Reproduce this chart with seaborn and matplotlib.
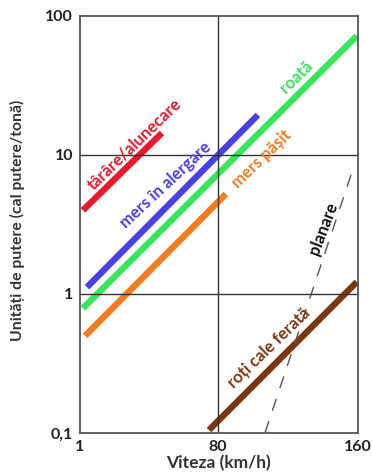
import pandas as pd
import numpy as np
import seaborn as sns
import matplotlib.pyplot as plt

# movement modes: start/end speed (km/h) and power units (hp/ton)
modes = ["târâre/alunecare", "mers în alergare", "roată", "mers pășit", "roți cale ferată"]
x_start = [2.7, 5.0, 2.7, 3.9, 74.8]
x_end = [47.9, 102.8, 159.4, 84.5, 159.4]
y_start = [4.0, 1.12, 0.79, 0.50, 0.105]
y_end = [14.4, 19.4, 71.8, 5.24, 1.22]
colors = ["#E8192C", "#4A3FE2", "#38E55B", "#F47B20", "#7B3810"]

# gliding (dashed)
planare_x = [106.8, 158.0]
planare_y = [0.1, 8.5]

# label centres and angles
label_x = [32.0, 50.3, 124.6, 105.2, 109.2]
label_y = [12.0, 6.1, 36.5, 9.4, 0.41]
label_rot = [44, 43, 44, 44, 44]

xticks = [1, 80, 160]
yticks = [0.1, 1, 10, 100]
ytick_labels = ["0,1", "1", "10", "100"]

rows = []
for m, xs, xe, ys, ye in zip(modes, x_start, x_end, y_start, y_end):
    rows.append({"mode": m, "x": xs, "y": ys})
    rows.append({"mode": m, "x": xe, "y": ye})
df = pd.DataFrame(rows)

sns.set_style("white")
plt.rcParams['font.family'] = ['Lato', 'DejaVu Sans']
plt.rcParams['font.weight'] = 'bold'

fig = plt.figure(figsize=(3.72, 4.75), dpi=100)
ax = fig.add_axes([0.215, 0.0884, 0.747, 0.878])

sns.lineplot(data=df, x="x", y="y", hue="mode", palette=dict(zip(modes, colors)),
             lw=4.6, ax=ax, legend=False, solid_capstyle="butt", sort=False)
ax.plot(planare_x, planare_y, color="#555555", lw=1.0, dashes=(9, 8))

ax.set_yscale("log")
ax.set_xlim(1, 160)
ax.set_ylim(0.1, 100)
ax.set_xticks(xticks)
ax.set_xticklabels([str(t) for t in xticks], fontsize=11.5, fontweight="bold")
ax.set_yticks(yticks)
ax.set_yticklabels(ytick_labels, fontsize=11.5, fontweight="bold")
ax.minorticks_off()
ax.tick_params(length=0, pad=5, colors="#222222")

ax.axvline(80, color="#333333", lw=1)
for yv in [1, 10]:
    ax.axhline(yv, color="#333333", lw=1)
for s in ax.spines.values():
    s.set_color("#555555")
    s.set_linewidth(1.3)

for t, lx, ly, r, c in zip(modes, label_x, label_y, label_rot, colors):
    ax.text(lx, ly, t, color=c, rotation=r, fontsize=12, fontweight="bold",
            ha="center", va="center", rotation_mode="anchor")
ax.text(140, 2.94, "planare", color="#111111", rotation=69, fontsize=12,
        fontweight="bold", ha="center", va="center", rotation_mode="anchor")

ax.set_xlabel("Viteza (km/h)", fontsize=12.5, fontweight="bold", color="#333333")
ax.set_ylabel("Unități de putere (cal putere/tonă)", fontsize=11.3, fontweight="bold",
              color="#333333")
ax.xaxis.set_label_coords(0.498, -0.053)
ax.yaxis.set_label_coords(-0.198, 0.511)

plt.savefig("out.png", dpi=100)
